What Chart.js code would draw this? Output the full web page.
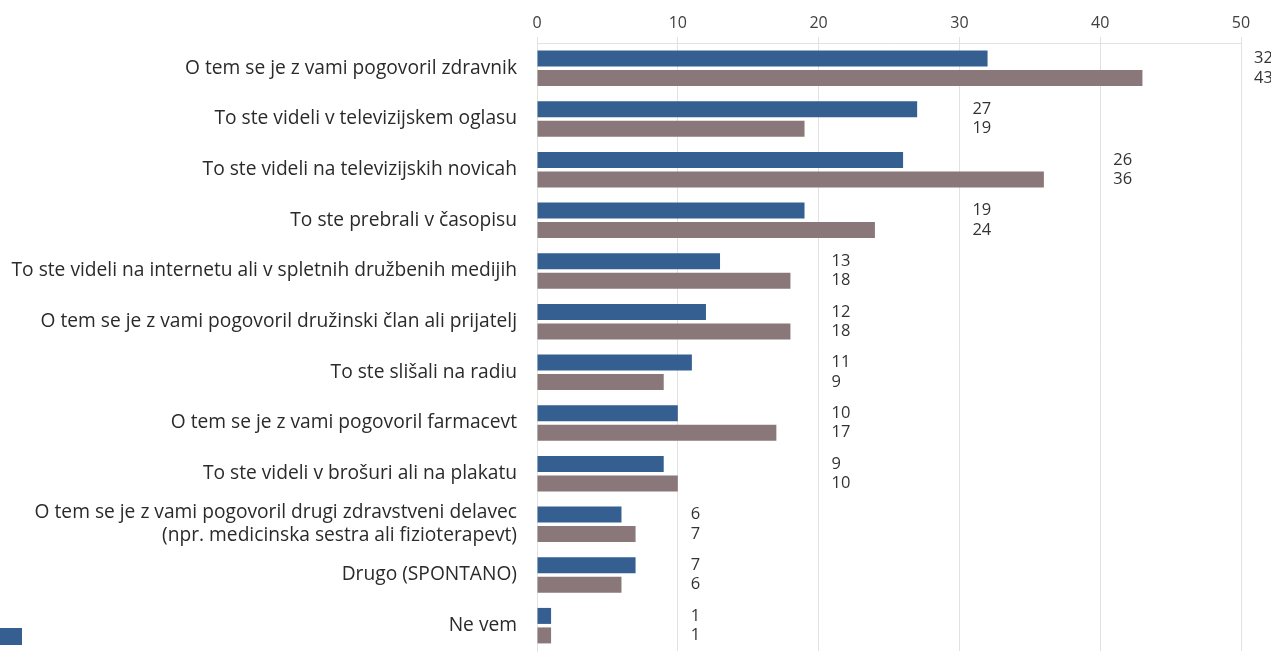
<!DOCTYPE html>
<html>
<head>
<meta charset="utf-8">
<script src="https://cdn.jsdelivr.net/npm/chart.js@4"></script>
<style>
  html, body { margin: 0; padding: 0; background: #fff; }
  #wrap { position: relative; width: 1271px; height: 652px; }
  #legendBox { position: absolute; left: 0; top: 628px; width: 22px; height: 17px; background: #355e91; }
</style>
</head>
<body>
<div id="wrap">
  <canvas id="chart" width="1271" height="652"></canvas>
  <div id="legendBox"></div>
</div>
<script>
const categories = [
    'O tem se je z vami pogovoril zdravnik',
    'To ste videli v televizijskem oglasu',
    'To ste videli na televizijskih novicah',
    'To ste prebrali v časopisu',
    'To ste videli na internetu ali v spletnih družbenih medijih',
    'O tem se je z vami pogovoril družinski član ali prijatelj',
    'To ste slišali na radiu',
    'O tem se je z vami pogovoril farmacevt',
    'To ste videli v brošuri ali na plakatu',
    ['O tem se je z vami pogovoril drugi zdravstveni delavec', '(npr. medicinska sestra ali fizioterapevt)'],
    'Drugo (SPONTANO)',
    'Ne vem'
];
const seriesA = [32, 27, 26, 19, 13, 12, 11, 10, 9, 6, 7, 1];
const seriesB = [43, 19, 36, 24, 18, 18, 9, 17, 10, 7, 6, 1];
const xTicks = [0, 10, 20, 30, 40, 50];

const FONT = '"Open Sans", "Noto Sans", sans-serif';

// value labels placed just past the next gridline after the longer bar
const valueLabels = {
    id: 'valueLabels',
    afterDatasetsDraw(chart) {
        const ctx = chart.ctx;
        const xs = chart.scales.x;
        ctx.save();
        ctx.font = '16.5px ' + FONT;
        ctx.fillStyle = '#333';
        ctx.textBaseline = 'middle';
        ctx.textAlign = 'left';
        for (let i = 0; i < categories.length; i++) {
            const maxV = Math.max(seriesA[i], seriesB[i]);
            const x = xs.getPixelForValue((Math.floor(maxV / 10) + 1) * 10) + 13;
            chart.data.datasets.forEach((ds, d) => {
                const bar = chart.getDatasetMeta(d).data[i];
                ctx.fillText(String(ds.data[i]), x, bar.y);
            });
        }
        ctx.restore();
    }
};

new Chart(document.getElementById('chart').getContext('2d'), {
    type: 'bar',
    data: {
        labels: categories,
        datasets: [
            { label: 'A', data: seriesA, backgroundColor: '#355e91', borderWidth: 0 },
            { label: 'B', data: seriesB, backgroundColor: '#8a7779', borderWidth: 0 }
        ]
    },
    options: {
        indexAxis: 'y',
        responsive: false,
        animation: false,
        layout: { padding: { left: 0, right: 30, top: 0, bottom: 1 } },
        datasets: { bar: { categoryPercentage: 0.77, barPercentage: 0.82 } },
        plugins: {
            legend: { display: false },
            tooltip: { enabled: false }
        },
        scales: {
            x: {
                position: 'top',
                min: 0,
                max: 50,
                afterBuildTicks: (s) => { s.ticks = xTicks.map(v => ({ value: v })); },
                afterFit: (s) => { s.height = 43; s.paddingLeft = 0; s.paddingRight = 0; },
                ticks: { color: '#404040', font: { size: 16, family: FONT }, padding: 4 },
                grid: { color: '#e2e2e2', tickLength: 6 },
                border: { color: '#e2e2e2' }
            },
            y: {
                afterFit: (s) => { s.width = 537; s.paddingTop = 0; s.paddingBottom = 0; },
                ticks: { color: '#2a2a2a', font: { size: 19.2, family: FONT }, padding: 12, autoSkip: false },
                grid: { display: false },
                border: { color: '#e2e2e2' }
            }
        }
    },
    plugins: [valueLabels]
});
</script>
</body>
</html>
